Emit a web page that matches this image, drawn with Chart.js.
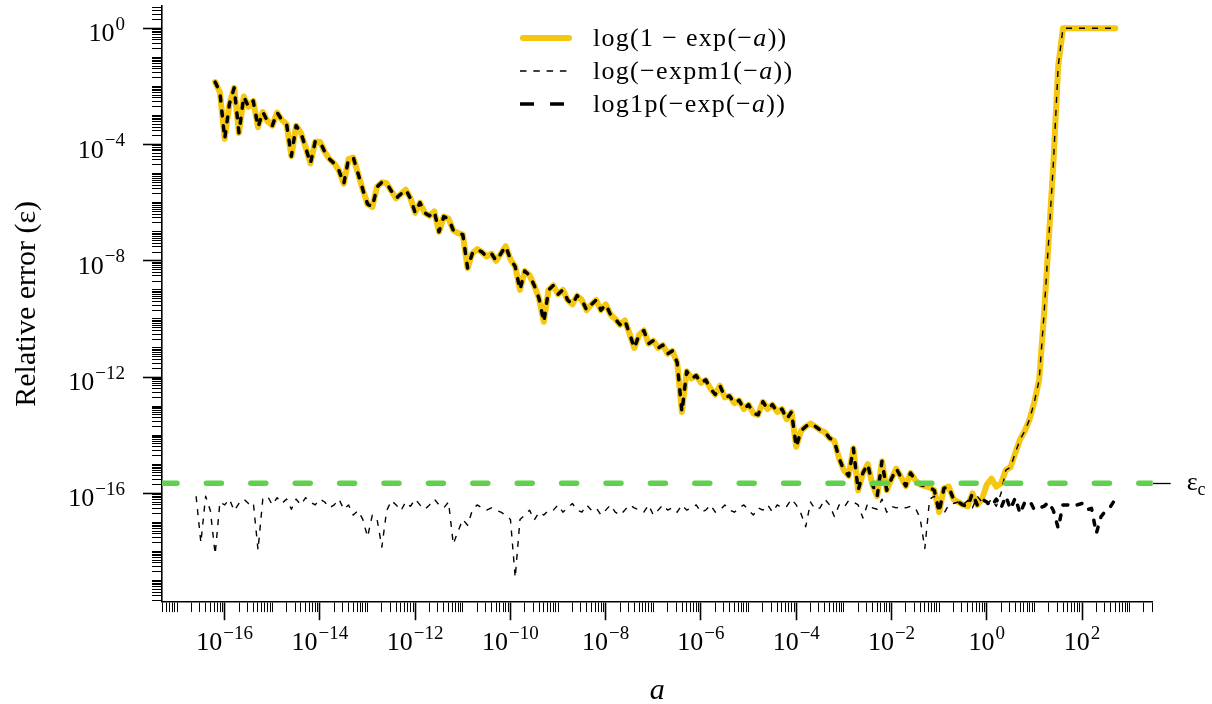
<!DOCTYPE html>
<html>
<head>
<meta charset="utf-8">
<title>Relative error of log(1 - exp(-a))</title>
<script src="https://cdn.jsdelivr.net/npm/chart.js@4.4.1/dist/chart.umd.min.js"></script>
<style>
  html, body { margin: 0; padding: 0; background: #fff; }
  #wrap { position: relative; width: 1212px; height: 704px; }
  #legend { position: absolute; left: 520px; top: 21px; font-family: 'Liberation Serif', serif; font-size: 26px; letter-spacing: 1.3px; color: #000; }
  #legend .row { display: flex; align-items: center; height: 33px; white-space: nowrap; }
  #legend svg { margin-right: 21px; flex: none; }
</style>
</head>
<body>
<div id="wrap">
  <canvas id="chart" width="1212" height="704"></canvas>
  <div id="legend"></div>
</div>
<script>
// log10(a), one sample every 0.1 decade
const logA = [
  -16.6, -16.5, -16.4, -16.3, -16.2, -16.1,
  -16.0, -15.9, -15.8, -15.7, -15.6, -15.5, -15.4, -15.3, -15.2, -15.1,
  -15.0, -14.9, -14.8, -14.7, -14.6, -14.5, -14.4, -14.3, -14.2, -14.1,
  -14.0, -13.9, -13.8, -13.7, -13.6, -13.5, -13.4, -13.3, -13.2, -13.1,
  -13.0, -12.9, -12.8, -12.7, -12.6, -12.5, -12.4, -12.3, -12.2, -12.1,
  -12.0, -11.9, -11.8, -11.7, -11.6, -11.5, -11.4, -11.3, -11.2, -11.1,
  -11.0, -10.9, -10.8, -10.7, -10.6, -10.5, -10.4, -10.3, -10.2, -10.1,
  -10.0, -9.9, -9.8, -9.7, -9.6, -9.5, -9.4, -9.3, -9.2, -9.1,
  -9.0, -8.9, -8.8, -8.7, -8.6, -8.5, -8.4, -8.3, -8.2, -8.1,
  -8.0, -7.9, -7.8, -7.7, -7.6, -7.5, -7.4, -7.3, -7.2, -7.1,
  -7.0, -6.9, -6.8, -6.7, -6.6, -6.5, -6.4, -6.3, -6.2, -6.1,
  -6.0, -5.9, -5.8, -5.7, -5.6, -5.5, -5.4, -5.3, -5.2, -5.1,
  -5.0, -4.9, -4.8, -4.7, -4.6, -4.5, -4.4, -4.3, -4.2, -4.1,
  -4.0, -3.9, -3.8, -3.7, -3.6, -3.5, -3.4, -3.3, -3.2, -3.1,
  -3.0, -2.9, -2.8, -2.7, -2.6, -2.5, -2.4, -2.3, -2.2, -2.1,
  -2.0, -1.9, -1.8, -1.7, -1.6, -1.5, -1.4, -1.3, -1.2, -1.1,
  -1.0, -0.9, -0.8, -0.7, -0.6, -0.5, -0.4, -0.3, -0.2, -0.1,
  0.0, 0.1, 0.2, 0.3, 0.4, 0.5, 0.6, 0.7, 0.8, 0.9,
  1.0, 1.1, 1.2, 1.3, 1.4, 1.5, 1.6, 1.7, 1.8, 1.9,
  2.0, 2.1, 2.2, 2.3, 2.4, 2.5, 2.6, 2.7
];

// log10 of the relative error of log(1 - exp(-a)); null where the result is -Inf
const errNaive = [
  null, null, null, null, -1.85, -2.2,
  -3.8, -2.6, -2.05, -3.6, -2.35, -2.7, -2.5, -3.4, -2.88, -3.2,
  -3.35, -2.9, -3.15, -3.3, -4.4, -3.35, -3.6, -4.1, -4.65, -3.9,
  -3.9, -4.25, -4.5, -4.65, -4.9, -5.35, -4.5, -4.45, -5.0, -5.55,
  -6.05, -6.15, -5.45, -5.3, -5.33, -5.6, -5.85, -5.7, -5.55, -5.85,
  -6.35, -6.0, -6.35, -6.45, -6.3, -7.0, -6.48, -6.55, -6.95, -7.05,
  -7.1, -8.25, -7.75, -7.6, -7.7, -7.85, -7.75, -8.0, -7.75, -7.5,
  -7.95, -8.2, -9.0, -8.35, -8.5, -8.85, -9.3, -10.1, -9.0, -8.85,
  -9.15, -9.0, -9.35, -9.5, -9.2, -9.35, -9.7, -9.5, -9.35, -9.7,
  -9.5, -9.85, -10.0, -10.2, -10.05, -10.5, -11.0, -10.55, -10.4, -10.85,
  -10.75, -11.0, -10.9, -11.2, -11.1, -11.5, -13.2, -11.8, -12.05, -11.95,
  -12.2, -12.1, -12.4, -12.6, -12.3, -12.7, -12.65, -12.9, -12.8, -13.1,
  -12.95, -13.25, -13.3, -12.85, -13.1, -12.95, -13.2, -13.1, -13.45, -13.2,
  -14.4, -13.85, -13.7, -13.6, -13.7, -13.82, -13.9, -14.1, -14.2, -14.8,
  -15.2, -15.4, -14.45, -15.9, -15.3, -15.0, -15.7, -16.1, -14.9, -15.9,
  -15.5, -15.15, -15.45, -15.75, -15.3, -15.55, -15.7, -15.75, -15.8, -15.9,
  -16.65, -15.83, -15.77, -16.2, -16.3, -16.4, -16.45, -16.0, -16.4, -16.2,
  -15.7, -15.5, -15.77, -15.66, -15.2, -15.1, -14.6, -14.15, -13.85, -13.45,
  -12.85, -12.1, -9.9, -7.3, -4.6, -1.3, 0, 0, 0, 0,
  0, 0, 0, 0, 0, 0, 0, 0
];

// log(-expm1(-a)): accurate up to a ~ 2, then it rounds like the naive form
const errExpm1Head = [
  -16.1, -17.7, -16.1, -16.6, -18.1, -16.3,
  -16.4, -16.2, -16.6, -16.35, -16.2, -16.35, -16.3, -17.95, -16.2, -16.1,
  -16.4, -16.15, -16.35, -16.2, -16.55, -16.2, -16.4, -16.15, -16.3, -16.4,
  -16.2, -16.3, -16.5, -16.4, -16.2, -16.55, -16.4, -16.75, -16.6, -16.9,
  -17.5, -16.75, -16.9, -17.85, -16.6, -16.25, -16.4, -16.6, -16.3, -16.45,
  -16.2, -16.4, -16.55, -16.4, -16.2, -16.4, -16.5, -16.3, -17.75, -17.3,
  -16.9, -17.1, -16.58, -16.4, -16.5, -16.58, -16.5, -16.58, -16.65, -16.75,
  -16.9, -18.9, -16.9, -16.75, -16.58, -16.92, -16.65, -16.75, -16.58, -16.58,
  -16.4, -16.65, -16.5, -16.35, -16.58, -16.65, -16.4, -16.58, -16.5, -16.75,
  -16.58, -16.4, -16.65, -16.75, -16.58, -16.4, -16.5, -16.58, -16.65, -16.4,
  -16.75, -16.58, -16.4, -16.58, -16.5, -16.65, -16.4, -16.58, -16.5, -16.4,
  -16.65, -16.58, -16.4, -16.65, -16.58, -16.4, -16.58, -16.65, -16.5, -16.4,
  -16.58, -16.75, -16.5, -16.58, -16.4, -16.65, -16.4, -16.5, -16.45, -16.2,
  -16.4, -16.7, -17.15, -16.3, -16.55, -16.5, -16.2, -16.4, -16.8, -16.4,
  -16.5, -16.25, -16.3, -16.4, -16.85, -16.35, -16.5, -16.55, -16.2, -16.65,
  -16.45, -16.5, -16.45, -16.5, -16.45, -16.5, -16.85, -17.9, -16.2, -16.1,
  -16.5, -16.7, -16.4, -16.35, -16.3, -16.4, -16.25, -16.5, -16.1, -16.3,
  -16.4, -16.2, -16.45, -16.0
];

// log1p(-exp(-a)): same loss as the naive form for small a, accurate from a ~ 1
const errLog1pTail = [
  -16.3, -16.45, -16.2, -16.5, -16.1, -16.55, -16.15, -16.7, -16.3, -16.25,
  -16.57, -16.5, -16.45, -16.3, -16.6, -17.2, -16.4, -16.4, -16.46, -16.4,
  -16.35, -16.57, -16.52, -17.38, -16.8, -16.6, -16.45, -16.2
];

const errExpm1 = errExpm1Head.concat(errNaive.slice(errExpm1Head.length));
const errLog1p = errNaive.slice(0, logA.length - errLog1pTail.length).concat(errLog1pTail);

// log10 of machine epsilon (2.22e-16)
const epsC = -15.654;

// axis limits, in decades
const xMin = -17.316, xMax = 3.484;
const yMin = -19.73, yMax = 0.767;

const FONT = "'Liberation Serif', serif";
const BASE_FONT = '26px ' + FONT;
const SUP_FONT = '19px ' + FONT;
Chart.defaults.font.family = FONT;
Chart.defaults.color = '#000';

// one tick per 1..9 x 10^k inside [min, max]; labelled decades get a long tick
function logTicks(min, max, every) {
  const ticks = [];
  for (let k = Math.floor(min); k <= Math.ceil(max); k++) {
    for (let m = 1; m <= 9; m++) {
      const v = k + Math.log10(m);
      if (v < min - 1e-9 || v > max + 1e-9) continue;
      ticks.push({ value: v, decade: k, big: m === 1 && k % every === 0 });
    }
  }
  return ticks;
}

const isBig = c => c.tick && c.tick.big;
const noPad = s => { s.paddingTop = 0; s.paddingBottom = 0; s.paddingLeft = 0; s.paddingRight = 0; };

const pts = ys => logA.map((x, i) => ({ x, y: ys[i] }));

// "10" with a raised exponent, at the labelled decades of both axes
const powerLabels = {
  id: 'powerLabels',
  afterDraw(chart) {
    const ctx = chart.ctx;
    ctx.save();
    ctx.fillStyle = '#000';
    ctx.textAlign = 'left';
    ctx.textBaseline = 'alphabetic';
    const draw = (k, x, y, align) => {
      const exp = String(k).replace('-', '\u2212');
      ctx.font = BASE_FONT;
      const wb = ctx.measureText('10').width;
      ctx.font = SUP_FONT;
      const we = ctx.measureText(exp).width;
      const w = wb + 1 + we;
      const x0 = align === 'right' ? x - w : x - w / 2;
      ctx.font = BASE_FONT;
      ctx.fillText('10', x0, y);
      ctx.font = SUP_FONT;
      ctx.fillText(exp, x0 + wb + 1, y - 11.5);
    };
    const xs = chart.scales.x;
    xs.ticks.forEach(t => {
      if (t.big) draw(t.decade, xs.getPixelForValue(t.value), xs.top + 48.5, 'center');
    });
    const ys = chart.scales.y;
    ys.ticks.forEach(t => {
      if (t.big) draw(t.decade, ys.right - 37, ys.getPixelForValue(t.value) + 13, 'right');
    });
    ctx.restore();
  }
};

// small subscript after the epsilon label on the right
const epsSubscript = {
  id: 'epsSubscript',
  afterDraw(chart) {
    const s = chart.scales.eps;
    const ctx = chart.ctx;
    const y = s.getPixelForValue(epsC);
    const x = s.left + s.options.grid.tickLength + s.options.ticks.padding;
    ctx.save();
    ctx.font = BASE_FONT;
    const w = ctx.measureText('\u03B5').width;
    ctx.font = '18px ' + FONT;
    ctx.fillStyle = '#000';
    ctx.textBaseline = 'middle';
    ctx.fillText('c', x + w, y + 7);
    ctx.restore();
  }
};

const chart = new Chart(document.getElementById('chart'), {
  type: 'line',
  data: {
    datasets: [
      {
        label: 'eps',
        data: [{ x: xMin, y: epsC }, { x: xMax, y: epsC }],
        borderColor: '#61D04F',
        borderWidth: 5.5,
        borderDash: [15, 29.4],
        borderCapStyle: 'round',
        order: 0
      },
      {
        label: 'log1p(-exp(-a))',
        data: pts(errLog1p),
        borderColor: '#000',
        borderWidth: 3.5,
        borderDash: [5, 10],
        borderCapStyle: 'round',
        borderJoinStyle: 'round',
        order: 1
      },
      {
        label: 'log(-expm1(-a))',
        data: pts(errExpm1),
        borderColor: '#000',
        borderWidth: 1.4,
        borderDash: [6, 7],
        borderJoinStyle: 'round',
        order: 2
      },
      {
        label: 'log(1-exp(-a))',
        data: pts(errNaive),
        borderColor: '#F5C710',
        borderWidth: 6,
        borderCapStyle: 'round',
        borderJoinStyle: 'round',
        order: 3
      }
    ]
  },
  options: {
    responsive: false,
    animation: false,
    layout: { padding: { top: 6, left: 0, right: 0, bottom: 0 } },
    elements: { point: { radius: 0 }, line: { tension: 0 } },
    plugins: {
      legend: { display: false },
      tooltip: { enabled: false }
    },
    scales: {
      x: {
        type: 'linear',
        min: xMin,
        max: xMax,
        afterBuildTicks: s => { s.ticks = logTicks(xMin, xMax, 2); },
        afterFit: s => { s.height = 102.3; noPad(s); },
        grid: {
          drawOnChartArea: false,
          tickLength: 18.5,
          tickColor: '#000',
          tickWidth: c => isBig(c) ? 1.6 : 1,
          tickBorderDash: c => isBig(c) ? [] : [9.5, 40]
        },
        border: { color: '#000', width: 1.6 },
        ticks: { display: false, autoSkip: false },
        title: {
          display: true,
          text: 'a',
          font: { size: 30, style: 'italic', lineHeight: 1 },
          padding: { top: 0, bottom: -2 }
        }
      },
      y: {
        type: 'linear',
        position: 'left',
        min: yMin,
        max: yMax,
        afterBuildTicks: s => { s.ticks = logTicks(yMin, yMax, 4); },
        afterFit: s => { s.width = 162; noPad(s); },
        grid: {
          drawOnChartArea: false,
          tickLength: 19,
          tickColor: '#000',
          tickWidth: c => isBig(c) ? 1.6 : 1,
          tickBorderDash: c => isBig(c) ? [] : [0, 9, 10, 40]
        },
        border: { color: '#000', width: 1.6 },
        ticks: { display: false, autoSkip: false },
        title: {
          display: true,
          text: 'Relative error (\u03B5)',
          font: { size: 30, lineHeight: 1 },
          padding: { top: 12, bottom: 0 }
        }
      },
      eps: {
        type: 'linear',
        position: 'right',
        min: yMin,
        max: yMax,
        afterBuildTicks: s => { s.ticks = [{ value: epsC }]; },
        afterFit: s => { s.width = 59.3; noPad(s); },
        grid: { drawOnChartArea: false, tickLength: 18, tickColor: '#000', tickWidth: 1.3 },
        border: { display: false },
        ticks: { padding: 16, font: { size: 26 }, callback: () => '\u03B5' }
      }
    }
  },
  plugins: [powerLabels, epsSubscript]
});

// legend, built next to the canvas so the formulas can use an italic a
const legendRows = [
  { html: 'log(1 \u2212 exp(\u2212<i>a</i>))', ds: 3, dash: '' },
  { html: 'log(\u2212expm1(\u2212<i>a</i>))', ds: 2, dash: '6.5 6.8' },
  { html: 'log1p(\u2212exp(\u2212<i>a</i>))', ds: 1, dash: '14 16' }
];
const legendEl = document.getElementById('legend');
legendRows.forEach(r => {
  const ds = chart.data.datasets[r.ds];
  const cap = r.dash ? 'butt' : 'round';
  const row = document.createElement('div');
  row.className = 'row';
  row.innerHTML =
    '<svg width="52" height="10"><line x1="' + (cap === 'round' ? 3 : 0) + '" y1="5" x2="' + (cap === 'round' ? 49 : 52) +
    '" y2="5" stroke="' + ds.borderColor + '" stroke-width="' + ds.borderWidth +
    '" stroke-linecap="' + cap + '"' + (r.dash ? ' stroke-dasharray="' + r.dash + '"' : '') + '/></svg>' +
    '<span>' + r.html + '</span>';
  legendEl.appendChild(row);
});
</script>
</body>
</html>
